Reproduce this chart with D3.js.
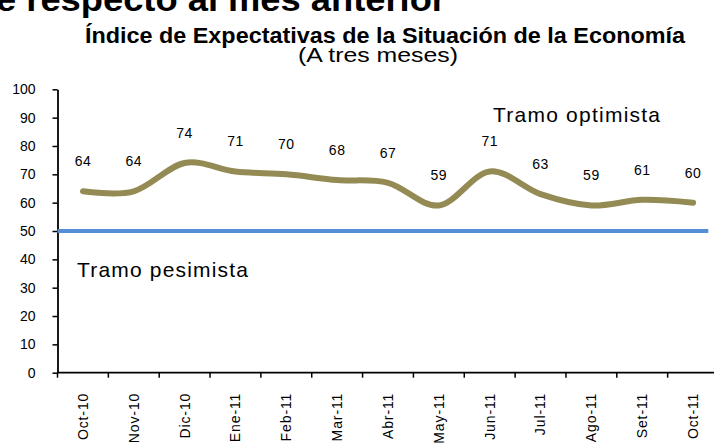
<!DOCTYPE html>
<html>
<head>
<meta charset="utf-8">
<script src="https://cdn.jsdelivr.net/npm/d3@7"></script>
<style>
  body { margin: 0; background: #fff; }
  svg { display: block; font-family: "Liberation Sans", Arial, sans-serif; }
</style>
</head>
<body>
<div id="chart"></div>
<script>
// data
var months = ["Oct-10", "Nov-10", "Dic-10", "Ene-11", "Feb-11", "Mar-11", "Abr-11",
  "May-11", "Jun-11", "Jul-11", "Ago-11", "Set-11", "Oct-11"];
var indice = [64, 64, 74, 71, 70, 68, 67, 59, 71, 63, 59, 61, 60];
var yTicks = [0, 10, 20, 30, 40, 50, 60, 70, 80, 90, 100];
var umbral = 50;

window.onload = () => {
  var width = 714,
    height = 446;

  var svg = d3.select("#chart").append("svg")
    .attr("width", width)
    .attr("height", height);

  var x = d3.scaleBand()
    .domain(months)
    .range([57.5, 718.5])
    .padding(0);

  var y = d3.scaleLinear()
    .domain([0, 100])
    .range([372.7, 89.3]);

  // heading of the page, cut at the very top
  svg.append("text")
    .attr("x", -4)
    .attr("y", 11)
    .attr("textLength", 450)
    .attr("lengthAdjust", "spacingAndGlyphs")
    .style("font-size", "33px")
    .style("font-weight", "bold")
    .text("e respecto al mes anterior");

  svg.append("text")
    .attr("x", 85)
    .attr("y", 43)
    .attr("textLength", 600)
    .attr("lengthAdjust", "spacingAndGlyphs")
    .style("font-family", "'Liberation Sans Narrow', 'Arial Narrow', 'Liberation Sans', sans-serif")
    .style("font-size", "22px")
    .style("font-weight", "bold")
    .text("Índice de Expectativas de la Situación de la   Economía");

  svg.append("text")
    .attr("x", 298)
    .attr("y", 62)
    .attr("textLength", 160)
    .attr("lengthAdjust", "spacingAndGlyphs")
    .style("font-family", "'Liberation Sans Narrow', 'Arial Narrow', 'Liberation Sans', sans-serif")
    .style("font-size", "20px")
    .text("(A tres meses)");

  // y axis
  var gy = svg.append("g")
    .attr("transform", "translate(" + x.range()[0] + ",0)")
    .call(d3.axisLeft(y).tickValues(yTicks).tickSize(5).tickPadding(17).tickSizeOuter(0));
  gy.select(".domain").attr("stroke", "#000").attr("stroke-width", 1.8);
  gy.selectAll(".tick line").attr("stroke", "#000").attr("stroke-width", 1.5);
  gy.selectAll("text")
    .style("font-size", "14px")
    .attr("fill", "#000");

  // x axis, ticks on the band edges
  var gx = svg.append("g")
    .attr("transform", "translate(0," + y(0) + ")");
  gx.append("line")
    .attr("x1", x.range()[0])
    .attr("x2", x.range()[1])
    .attr("stroke", "#000")
    .attr("stroke-width", 1.8);
  gx.selectAll(".tk")
    .data(months)
    .join("line")
    .attr("class", "tk")
    .attr("x1", d => x(d))
    .attr("x2", d => x(d))
    .attr("y1", 0)
    .attr("y2", 5)
    .attr("stroke", "#000")
    .attr("stroke-width", 1.5);
  gx.selectAll(".lbl")
    .data(months)
    .join("text")
    .attr("class", "lbl")
    .attr("transform", d => "translate(" + (x(d) + x.bandwidth() / 2) + ",20) rotate(-90)")
    .attr("dy", "0.35em")
    .attr("text-anchor", "end")
    .style("font-size", "14px")
    .style("letter-spacing", "0.9px")
    .text(d => d);

  // 50 = limit between optimistic and pessimistic
  svg.append("line")
    .attr("x1", x.range()[0])
    .attr("x2", x.range()[1] - 0.2 * x.bandwidth())
    .attr("y1", y(umbral))
    .attr("y2", y(umbral))
    .attr("stroke", "#558ED5")
    .attr("stroke-width", 4);

  // smoothed series
  var line = d3.line()
    .x((d, i) => x(months[i]) + x.bandwidth() / 2)
    .y(d => y(d))
    .curve(d3.curveCardinal.tension(0));

  svg.append("path")
    .datum(indice)
    .attr("d", line)
    .attr("fill", "none")
    .attr("stroke", "#948A54")
    .attr("stroke-width", 6)
    .attr("stroke-linecap", "round");

  svg.selectAll(".val")
    .data(indice)
    .join("text")
    .attr("class", "val")
    .attr("x", (d, i) => x(months[i]) + x.bandwidth() / 2)
    .attr("y", d => y(d) - 25)
    .attr("text-anchor", "middle")
    .style("font-size", "14px")
    .style("letter-spacing", "0.5px")
    .text(d => d);

  svg.append("text")
    .attr("x", 493)
    .attr("y", 122)
    .attr("textLength", 167)
    .attr("lengthAdjust", "spacing")
    .style("font-size", "21px")
    .text("Tramo optimista");

  svg.append("text")
    .attr("x", 77)
    .attr("y", 277)
    .attr("textLength", 171)
    .attr("lengthAdjust", "spacing")
    .style("font-size", "21px")
    .text("Tramo pesimista");
};
</script>
</body>
</html>
